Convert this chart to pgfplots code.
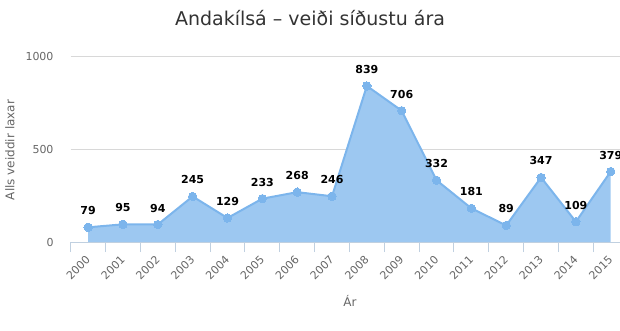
\documentclass[border=0pt]{standalone}
\usepackage{pgfplots}
\pgfplotsset{compat=1.18}
\usepackage{fontspec}
\setmainfont{DejaVu Sans}
\definecolor{hcblue}{HTML}{7CB5EC}
\definecolor{hcfill}{HTML}{9DC8F1}
\definecolor{axblue}{HTML}{C0D0E0}
\definecolor{gridc}{HTML}{D8D8D8}
\definecolor{txt}{HTML}{666666}
\definecolor{ttl}{HTML}{333333}
\begin{document}
\begin{tikzpicture}[x=1pt,y=1pt]
\useasboundingbox (0,0) rectangle (620,330);
\node[font=\fontsize{19}{23}\selectfont, text=ttl] at (310,312) {Andakílsá – veiði síðustu ára};
\node[font=\fontsize{12}{14}\selectfont, text=txt] at (350,29) {Ár};
\node[font=\fontsize{12}{14}\selectfont, text=txt, rotate=90] at (10,180) {Alls veiddir laxar};
\begin{axis}[
  at={(70.7pt,88pt)}, anchor=south west,
  width=549.3pt, height=186pt, scale only axis,
  xmin=-0.5, xmax=15.266, ymin=0, ymax=1000,
  axis line style={draw=none},
  xtick={0,...,15},
  xticklabels={2000,2001,2002,2003,2004,2005,2006,2007,2008,2009,2010,2011,2012,2013,2014,2015},
  ytick={0,500,1000},
  major tick length=0pt,
  tick align=outside,
  xtick pos=bottom, ytick pos=left,
  extra x ticks={-0.5,0.5,...,14.5},
  extra x tick labels={},
  extra x tick style={major tick length=10pt, tick style={draw=axblue, line width=1pt}, grid=none, xtick pos=bottom},
  ymajorgrids, grid style={draw=gridc, line width=1pt},
  xticklabel style={font=\fontsize{11}{13}\selectfont, text=txt, inner sep=0pt, xshift=0pt, yshift=-16pt, rotate=45, anchor=east},
  yticklabel style={font=\fontsize{11}{13}\selectfont, text=txt, anchor=east, inner sep=0pt, xshift=-17pt},
  clip=false,
  scaled y ticks=false,
  /pgf/number format/1000 sep={},
  /pgf/number format/assume math mode=true,
]
\addplot[draw=none, fill=hcfill] coordinates {
(0,79) (1,95) (2,94) (3,245) (4,129) (5,233) (6,268) (7,246) (8,839) (9,706) (10,332) (11,181) (12,89) (13,347) (14,109) (15,379)
} \closedcycle;
\draw[draw=axblue, line width=1pt] (rel axis cs:0,0) -- (rel axis cs:1,0);
\addplot[draw=hcblue, line width=2pt, mark=*, mark size=4.2pt, mark options={fill=hcblue, draw=hcblue, line width=0pt},
  nodes near coords, nodes near coords style={font=\bfseries\fontsize{11}{13}\selectfont, text=black, anchor=south, yshift=9pt}]
 coordinates {
(0,79) (1,95) (2,94) (3,245) (4,129) (5,233) (6,268) (7,246) (8,839) (9,706) (10,332) (11,181) (12,89) (13,347) (14,109) (15,379)
};
\end{axis}
\end{tikzpicture}
\end{document}
